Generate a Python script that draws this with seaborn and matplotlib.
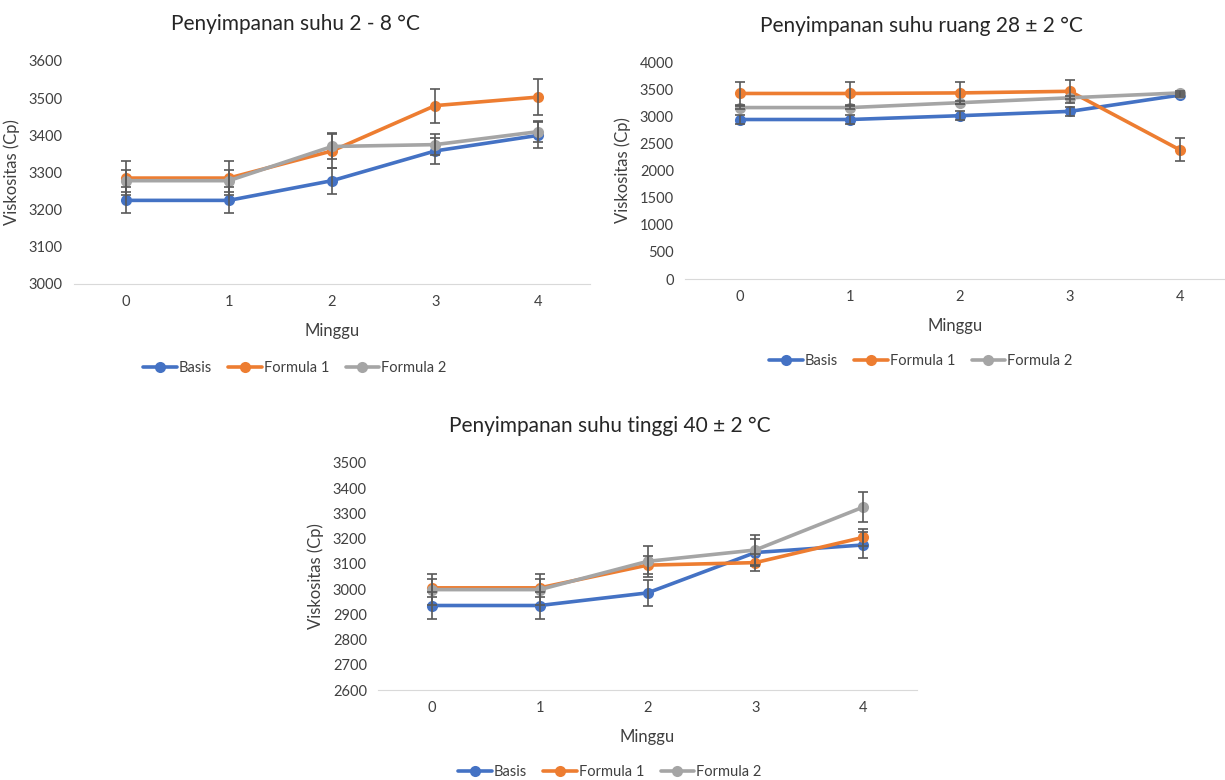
import numpy as np
import pandas as pd
import seaborn as sns
import matplotlib.pyplot as plt

weeks = [0, 1, 2, 3, 4]
groups = ['Basis', 'Formula 1', 'Formula 2']
colors = ['#4472C4', '#ED7D31', '#A5A5A5']

# suhu 2 - 8 °C
cold_basis = [3225, 3225, 3278, 3358, 3400]
cold_f1 = [3285, 3285, 3358, 3480, 3503]
cold_f2 = [3278, 3278, 3370, 3375, 3410]
cold_err_basis = [35, 35, 35, 35, 35]
cold_err_f1 = [45, 45, 45, 46, 48]
cold_err_f2 = [30, 30, 35, 28, 28]

# suhu ruang 28 ± 2 °C
room_basis = [2940, 2940, 3010, 3090, 3390]
room_f1 = [3420, 3420, 3430, 3460, 2380]
room_f2 = [3160, 3160, 3250, 3340, 3430]
room_err_basis = [80, 80, 80, 80, 30]
room_err_f1 = [210, 210, 210, 210, 210]
room_err_f2 = [30, 30, 30, 30, 30]

# suhu tinggi 40 ± 2 °C
hot_basis = [2935, 2935, 2985, 3145, 3175]
hot_f1 = [3005, 3005, 3095, 3105, 3205]
hot_f2 = [2998, 2998, 3110, 3155, 3325]
hot_err_basis = [52, 52, 52, 52, 52]
hot_err_f1 = [35, 35, 35, 35, 35]
hot_err_f2 = [60, 60, 60, 60, 60]

sns.set_style('white')
plt.rcParams['font.family'] = ['Lato', 'DejaVu Sans']

fig = plt.figure(figsize=(12.25, 7.8), dpi=100)
W, H = 1225, 780


def panel(rect, vals, errs, title, yticks, xmax, title_xy, leg_y):
    l, t, r, b = rect
    ax = fig.add_axes([l / W, 1 - b / H, (r - l) / W, (b - t) / H])
    df = pd.DataFrame({'Minggu': weeks * 3,
                       'v': sum(vals, []),
                       'g': np.repeat(groups, 5)})
    sns.lineplot(data=df, x='Minggu', y='v', hue='g', palette=colors, ax=ax,
                 marker='o', markersize=8, markeredgewidth=0, linewidth=2.6)
    for v, e in zip(vals, errs):
        ax.errorbar(weeks, v, yerr=e, fmt='none', ecolor='#595959',
                    elinewidth=1.2, capsize=3.5, capthick=1.2, zorder=5)
    ax.set_xlim(-0.5, xmax)
    ax.set_ylim(yticks[0], yticks[-1])
    ax.set_yticks(yticks)
    ax.set_xticks(weeks)
    ax.tick_params(length=0, labelsize=10.5, colors='#404040', pad=8)
    for s in ['top', 'right', 'left']:
        ax.spines[s].set_visible(False)
    ax.spines['bottom'].set_color('#D9D9D9')
    ax.set_xlabel('Minggu', fontsize=12, color='#404040', labelpad=10)
    ax.set_ylabel('Viskositas (Cp)', fontsize=12, color='#404040', labelpad=6)
    fig.text(title_xy[0] / W, 1 - title_xy[1] / H, title, ha='center',
             va='center', fontsize=15, color='#262626')
    # legend centred on the whole chart block, like Excel
    ax.legend(loc='center',
              bbox_to_anchor=((title_xy[0] - l) / (r - l), 1 - (leg_y - t) / (b - t)),
              ncol=3, frameon=False, fontsize=10.5, handlelength=2.3,
              columnspacing=1.1, handletextpad=0.15,
              labelcolor='#404040')
    return ax


panel((74, 61, 590, 284), [cold_basis, cold_f1, cold_f2],
      [cold_err_basis, cold_err_f1, cold_err_f2],
      'Penyimpanan suhu 2 - 8 °C', list(range(3000, 3601, 100)), 4.5,
      (295, 24), 368)

panel((685, 62, 1225, 279), [room_basis, room_f1, room_f2],
      [room_err_basis, room_err_f1, room_err_f2],
      'Penyimpanan suhu ruang 28 ± 2 °C', list(range(0, 4001, 500)), 4.41,
      (921, 26), 361)

panel((378, 463, 917, 690), [hot_basis, hot_f1, hot_f2],
      [hot_err_basis, hot_err_f1, hot_err_f2],
      'Penyimpanan suhu tinggi 40 ± 2 °C', list(range(2600, 3501, 100)), 4.5,
      (610, 426), 772)

fig.savefig('out.png', dpi=100)
